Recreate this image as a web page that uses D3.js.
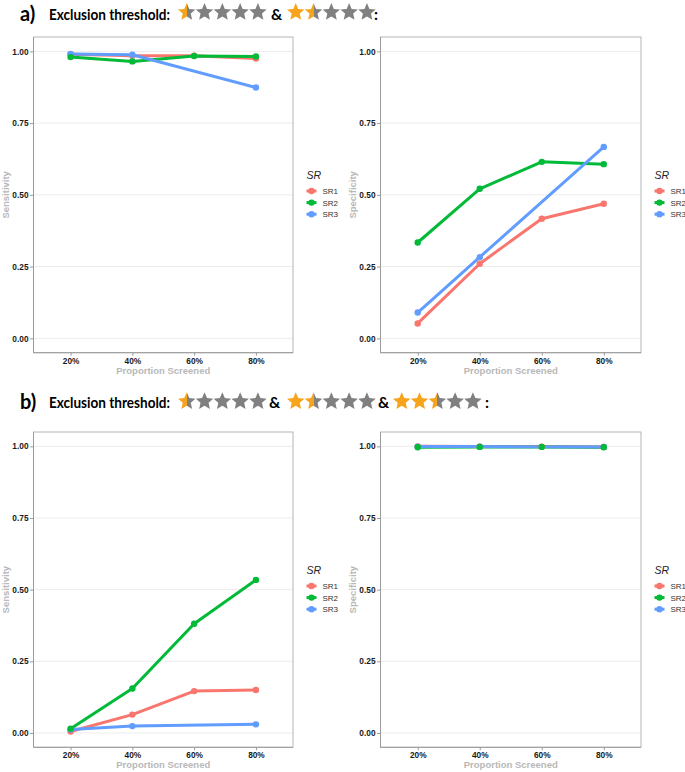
<!DOCTYPE html>
<html><head><meta charset="utf-8">
<script src="https://cdn.jsdelivr.net/npm/d3@7"></script>
<style>html,body{margin:0;padding:0;background:#fff;}svg{display:block;}</style>
</head><body>
<script>
// ---------- data ----------
const categories = ["20%", "40%", "60%", "80%"];
const seriesNames = ["SR1", "SR2", "SR3"];
const seriesColors = ["#F8766D", "#00BA38", "#619CFF"];
const yTicks = [0, 0.25, 0.5, 0.75, 1];

// panel a (threshold 0.5 & 1.5 stars)
const aSensSR1 = [0.990, 0.985, 0.985, 0.975];
const aSensSR2 = [0.980, 0.965, 0.984, 0.982];
const aSensSR3 = [0.991, 0.988, null, 0.874];
const aSpecSR1 = [0.052, 0.260, 0.417, 0.469];
const aSpecSR2 = [0.334, 0.521, 0.615, 0.607];
const aSpecSR3 = [0.090, 0.283, null, 0.667];
// panel b (threshold 0.5 & 1.5 & 2.5 stars)
const bSensSR1 = [0.005, 0.064, 0.146, 0.150];
const bSensSR2 = [0.015, 0.155, 0.381, 0.534];
const bSensSR3 = [0.012, 0.024, null, 0.030];
const bSpecSR1 = [1.000, 0.999, 0.999, 0.998];
const bSpecSR2 = [0.997, 0.998, 0.998, 0.997];
const bSpecSR3 = [0.999, 0.999, null, 0.998];

const thresholdsA = [0.5, 1.5];
const thresholdsB = [0.5, 1.5, 2.5];

// ---------- drawing ----------
const W = 685, H = 772;
const svg = d3.select("body").append("svg").attr("width", W).attr("height", H);
const defs = svg.append("defs");
const FONT = "'Liberation Sans', Arial, sans-serif";

function drawPanel(x0, x1, y0, y1, data, yTitle) {
  const g = svg.append("g");
  const x = d3.scalePoint().domain(categories).range([x0, x1]).padding(0.6);
  const y = d3.scaleLinear().domain([-0.05, 1.05]).range([y1, y0]);

  // grid
  g.selectAll(".grid").data(yTicks).join("line")
    .attr("x1", x0).attr("x2", x1)
    .attr("y1", d => y(d)).attr("y2", d => y(d))
    .attr("stroke", "#ececec").attr("stroke-width", 1);

  // frame
  g.append("rect").attr("x", x0).attr("y", y0).attr("width", x1 - x0).attr("height", y1 - y0)
    .attr("fill", "none").attr("stroke", "#b5b5b5").attr("stroke-width", 1);
  g.append("path").attr("d", `M${x0},${y0}V${y1}H${x1}`).attr("fill", "none")
    .attr("stroke", "#9a9a9a").attr("stroke-width", 1);

  // y axis
  const yAxis = d3.axisLeft(y).tickValues(yTicks).tickFormat(d3.format(".2f")).tickSize(3.5).tickPadding(1.5);
  const ya = g.append("g").attr("transform", `translate(${x0},0)`).call(yAxis);
  ya.select(".domain").remove();
  ya.selectAll(".tick line").attr("stroke", "#9a9a9a");
  ya.selectAll(".tick text").attr("font-family", FONT).attr("font-size", 8.3)
    .attr("font-weight", "bold").attr("fill", "#1a1a1a");

  // x axis
  const xAxis = d3.axisBottom(x).tickSize(3).tickPadding(2);
  const xa = g.append("g").attr("transform", `translate(0,${y1})`).call(xAxis);
  xa.select(".domain").remove();
  xa.selectAll(".tick line").attr("stroke", "#9a9a9a");
  xa.selectAll(".tick text").attr("font-family", FONT).attr("font-size", 8.3)
    .attr("font-weight", "bold").attr("fill", "#1a1a1a");

  // titles
  g.append("text").attr("x", (x0 + x1) / 2).attr("y", y1 + 21)
    .attr("text-anchor", "middle").attr("font-family", FONT).attr("font-size", 9.5)
    .attr("font-weight", "bold").attr("fill", "#b8b8b8").text("Proportion Screened");
  g.append("text").attr("transform", `translate(${x0 - 25},${(y0 + y1) / 2}) rotate(-90)`)
    .attr("text-anchor", "middle").attr("font-family", FONT).attr("font-size", 9.5)
    .attr("font-weight", "bold").attr("fill", "#b8b8b8").text(yTitle);

  // lines
  const line = d3.line().defined(d => d.v != null).x(d => x(d.c)).y(d => y(d.v));
  const series = data.map((vals, i) => ({
    name: seriesNames[i], color: seriesColors[i],
    pts: vals.map((v, j) => ({ c: categories[j], v }))
  }));
  series.forEach(s => {
    g.append("path").datum(s.pts.filter(p => p.v != null)).attr("d", line)
      .attr("fill", "none").attr("stroke", s.color).attr("stroke-width", 3)
      .attr("stroke-linejoin", "round").attr("stroke-linecap", "butt");
  });
  // points (SR2 drawn last, as in the reference)
  [0, 2, 1].forEach(i => {
    const s = series[i];
    g.selectAll(null).data(s.pts.filter(p => p.v != null)).join("circle")
      .attr("cx", d => x(d.c)).attr("cy", d => y(d.v)).attr("r", 3.2).attr("fill", s.color);
  });

  // legend
  const lx = x1 + 13.5;
  g.append("text").attr("x", lx).attr("y", y0 + 142).attr("font-family", FONT)
    .attr("font-size", 10.5).attr("font-style", "italic").attr("fill", "#222").text("SR");
  series.forEach((s, i) => {
    const ly = y0 + 154 + i * 11.6;
    g.append("line").attr("x1", lx).attr("x2", lx + 10).attr("y1", ly).attr("y2", ly)
      .attr("stroke", s.color).attr("stroke-width", 3);
    g.append("circle").attr("cx", lx + 5).attr("cy", ly).attr("r", 3.2).attr("fill", s.color);
    g.append("text").attr("x", lx + 16).attr("y", ly + 3).attr("font-family", FONT)
      .attr("font-size", 8).attr("fill", "#333").text(s.name);
  });
}

// ---------- star header ----------
let gradId = 0;
function starPath(cx, cy, R, r) {
  const pts = [];
  for (let k = 0; k < 10; k++) {
    const a = -Math.PI / 2 + k * Math.PI / 5;
    const rr = k % 2 === 0 ? R : r;
    pts.push([cx + rr * Math.cos(a), cy + rr * Math.sin(a)]);
  }
  return "M" + pts.map(p => p.join(",")).join("L") + "Z";
}
function starGroup(x, cy, filled) {
  const pitch = 17.8, R = 9.2;
  for (let i = 0; i < 5; i++) {
    const f = Math.max(0, Math.min(1, filled - i));
    const id = "sg" + (gradId++);
    const gr = defs.append("linearGradient").attr("id", id).attr("x1", 0).attr("x2", 1).attr("y1", 0).attr("y2", 0);
    gr.append("stop").attr("offset", f).attr("stop-color", "#F7A41D");
    gr.append("stop").attr("offset", f).attr("stop-color", "#808080");
    svg.append("path").attr("d", starPath(x + R * 0.95 + i * pitch, cy, R, R * 0.46))
      .attr("fill", `url(#${id})`);
  }
}
function header(label, baseline, starCy, thresholds, groupX, ampX, colonX) {
  svg.append("text").attr("x", 20).attr("y", baseline + 1).attr("font-family", "Lato, 'Open Sans', sans-serif")
    .attr("font-size", 20).attr("font-weight", "bold").attr("fill", "#000").text(label);
  svg.append("text").attr("x", 49).attr("y", baseline).attr("font-family", "Lato, 'Open Sans', sans-serif")
    .attr("font-size", 15.5).attr("font-weight", "bold").attr("fill", "#000")
    .attr("textLength", 121).attr("lengthAdjust", "spacingAndGlyphs").text("Exclusion threshold:");
  thresholds.forEach((t, i) => starGroup(groupX[i], starCy, t));
  ampX.forEach(ax => svg.append("text").attr("x", ax).attr("y", baseline)
    .attr("font-family", "Lato, 'Open Sans', sans-serif").attr("font-size", 15.5)
    .attr("font-weight", "bold").attr("fill", "#000").text("&"));
  svg.append("text").attr("x", colonX).attr("y", baseline).attr("font-family", "Lato, 'Open Sans', sans-serif")
    .attr("font-size", 15.5).attr("font-weight", "bold").attr("fill", "#000").text(":");
}

header("a)", 19.5, 12.3, thresholdsA, [178, 287], [271], 374);
header("b)", 408, 401.5, thresholdsB, [178, 287, 393], [269, 378], 485);

drawPanel(33.5, 293, 37, 352.7, [aSensSR1, aSensSR2, aSensSR3], "Sensitivity");
drawPanel(380.5, 641, 37, 352.7, [aSpecSR1, aSpecSR2, aSpecSR3], "Specificity");
drawPanel(33.5, 293, 432, 747.3, [bSensSR1, bSensSR2, bSensSR3], "Sensitivity");
drawPanel(380.5, 641, 432, 747.3, [bSpecSR1, bSpecSR2, bSpecSR3], "Specificity");
</script>
</body></html>
